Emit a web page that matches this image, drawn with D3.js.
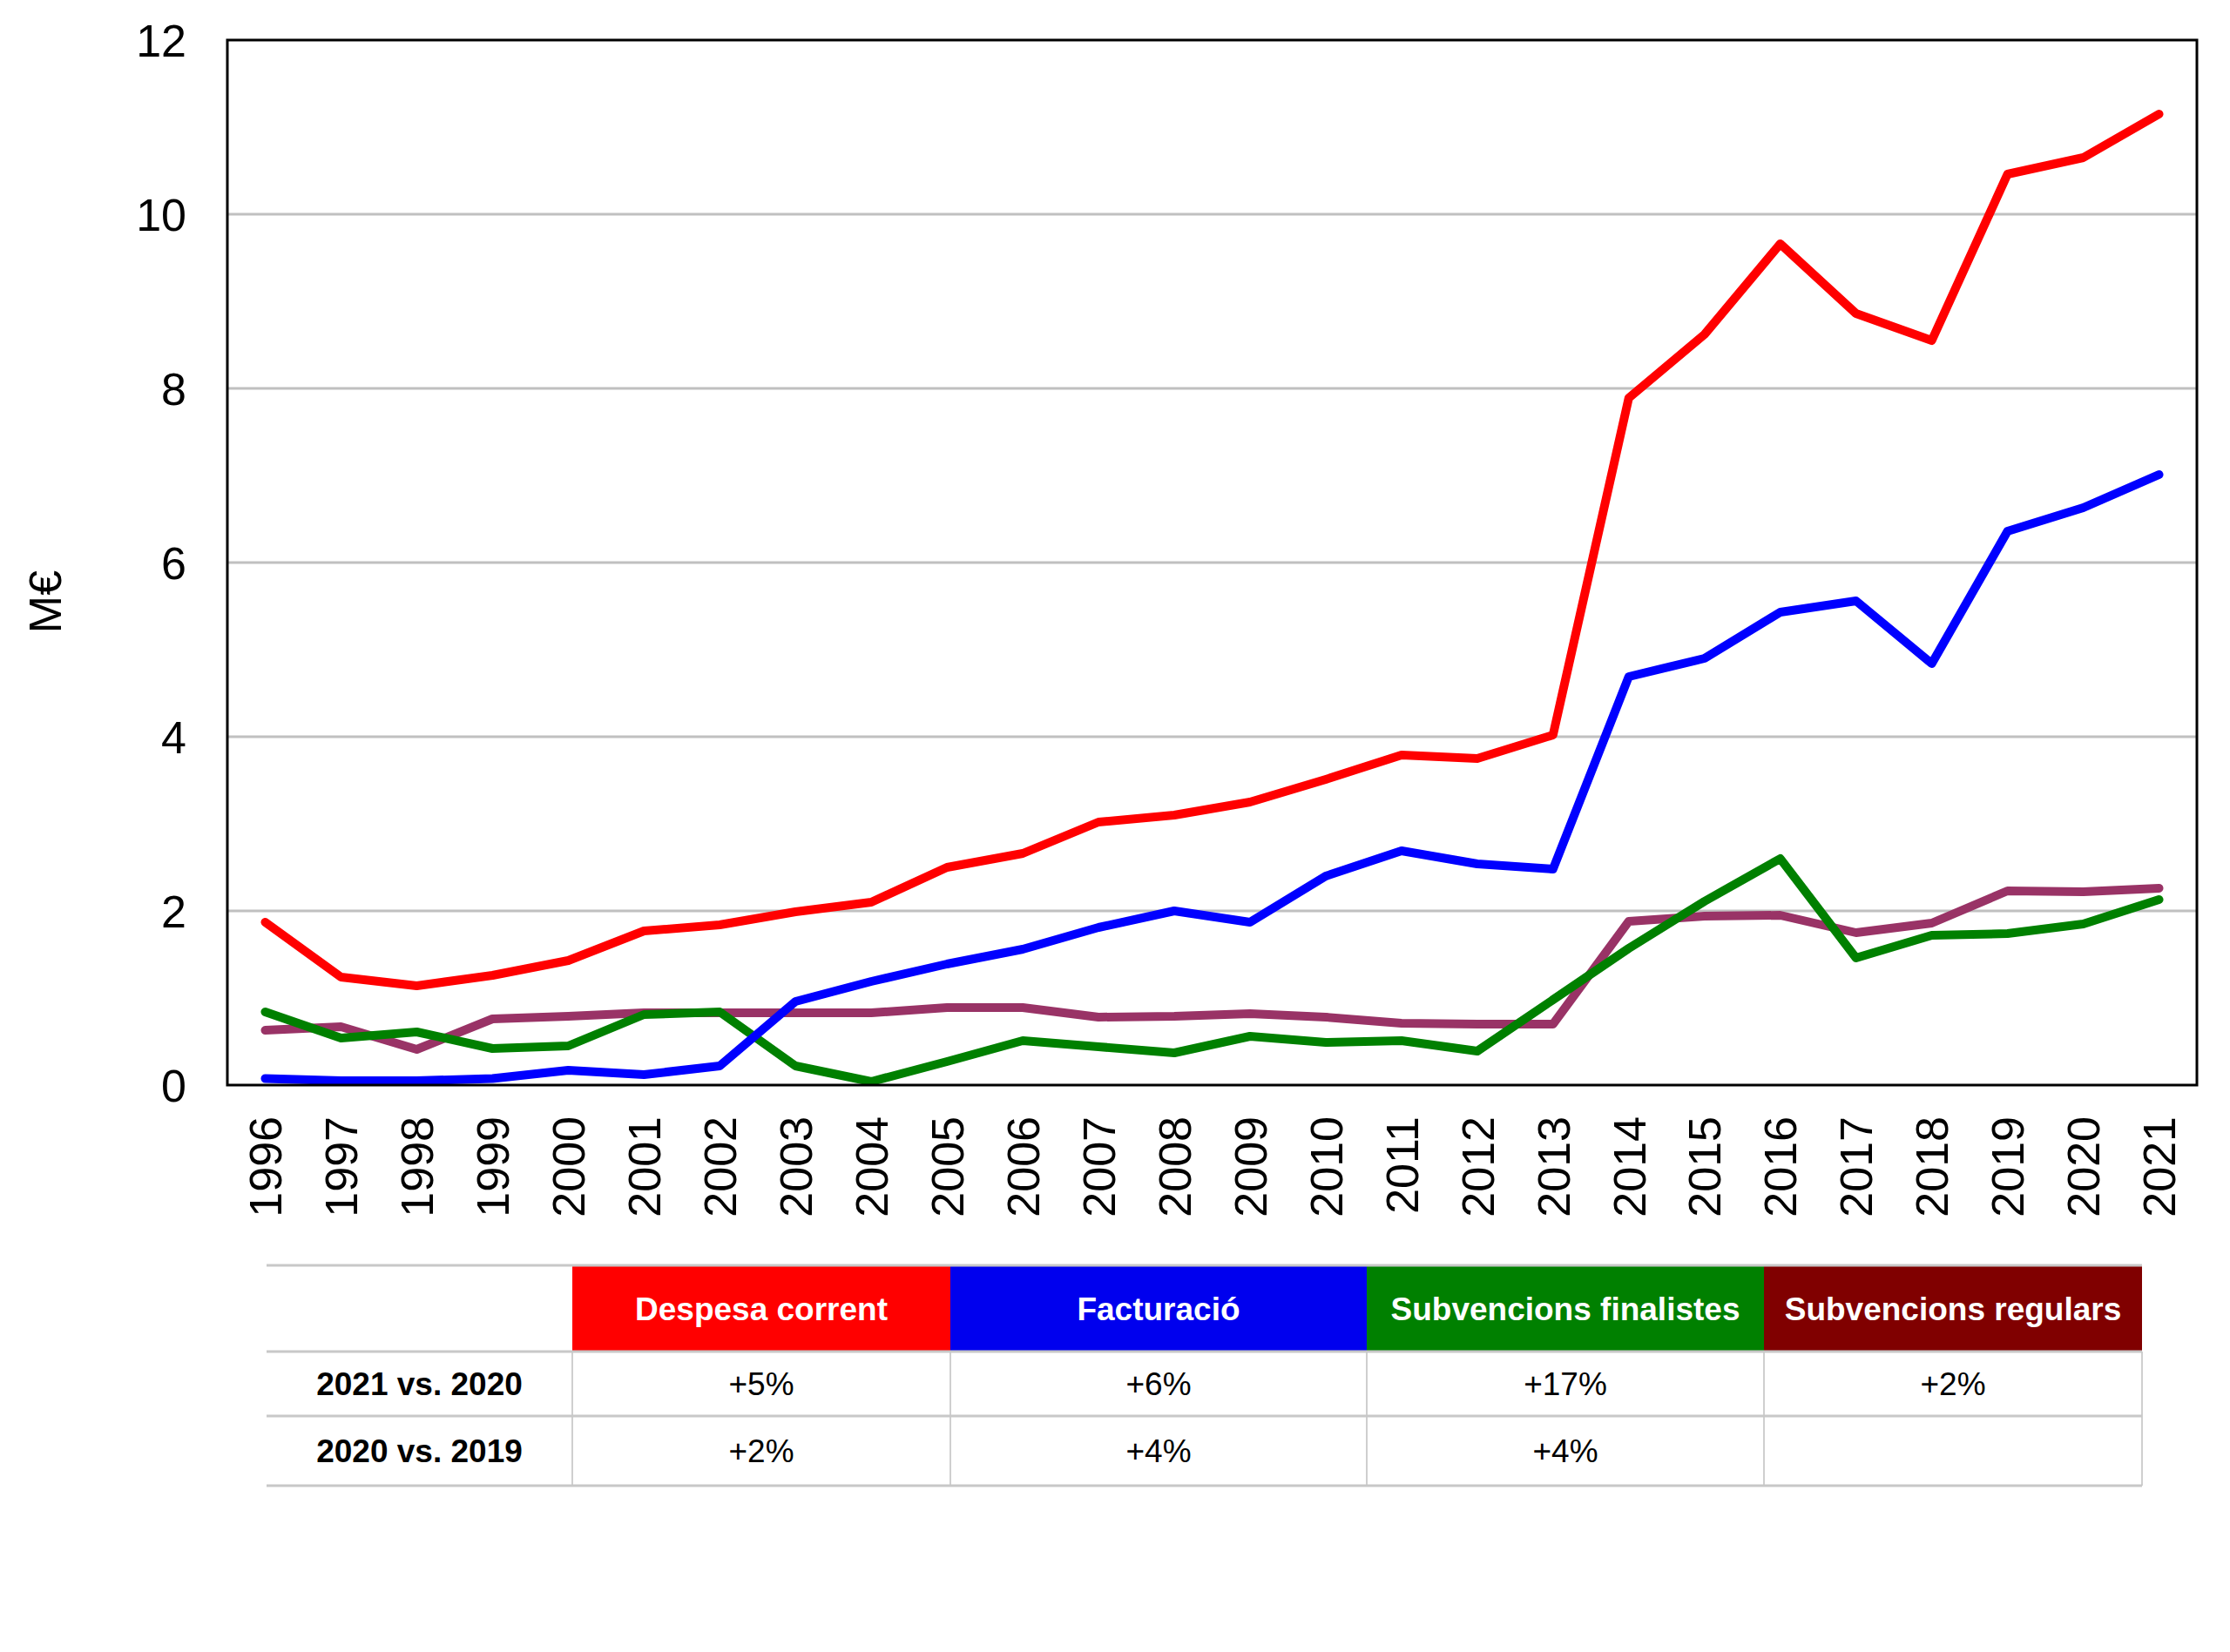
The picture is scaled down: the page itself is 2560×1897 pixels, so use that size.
<!DOCTYPE html>
<html>
<head>
<meta charset="utf-8">
<script src="https://cdn.jsdelivr.net/npm/d3@7"></script>
<style>
  body { margin: 0; background: #fff; }
  text { font-family: "Liberation Sans", Arial, sans-serif; }
</style>
</head>
<body>
<div id="chart"></div>
<script>
// data
const years = d3.range(1996, 2022).map(String);

const despesaCorrent = [1.87, 1.24, 1.14, 1.26, 1.43, 1.77, 1.84, 1.99, 2.10, 2.50, 2.66, 3.02, 3.10,
  3.25, 3.51, 3.79, 3.75, 4.02, 7.89, 8.62, 9.66, 8.86, 8.55, 10.46, 10.65, 11.15];
const facturacio = [0.075, 0.05, 0.05, 0.075, 0.17, 0.12, 0.22, 0.96, 1.19, 1.39, 1.56, 1.81, 2.00,
  1.87, 2.40, 2.69, 2.54, 2.48, 4.69, 4.90, 5.43, 5.56, 4.84, 6.36, 6.63, 7.01];
const subvFinalistes = [0.84, 0.54, 0.61, 0.42, 0.45, 0.81, 0.84, 0.22, 0.04, 0.27, 0.51, 0.44, 0.37,
  0.56, 0.49, 0.51, 0.39, 0.98, 1.57, 2.11, 2.60, 1.46, 1.72, 1.74, 1.85, 2.13];
const subvRegulars = [0.63, 0.67, 0.41, 0.76, 0.79, 0.83, 0.83, 0.83, 0.83, 0.89, 0.89, 0.78, 0.79,
  0.82, 0.78, 0.71, 0.70, 0.70, 1.88, 1.94, 1.95, 1.75, 1.86, 2.23, 2.22, 2.26];

const yTicks = [0, 2, 4, 6, 8, 10, 12];

const tableHeaders = ["Despesa corrent", "Facturació", "Subvencions finalistes", "Subvencions regulars"];
const tableRowLabels = ["2021 vs. 2020", "2020 vs. 2019"];
const tableRow2021 = ["+5%", "+6%", "+17%", "+2%"];
const tableRow2020 = ["+2%", "+4%", "+4%", ""];

const W = 2560, H = 1897;
const plot = {left: 261, right: 2522, top: 46, bottom: 1246};

const svg = d3.select('#chart').append('svg')
  .attr('width', W)
  .attr('height', H)
  .style('display', 'block');

svg.append('rect').attr('width', W).attr('height', H).attr('fill', '#fff');

const x = d3.scaleBand()
  .domain(years)
  .range([plot.left, plot.right]);

const y = d3.scaleLinear()
  .domain([0, 12])
  .range([plot.bottom, plot.top]);

// gridlines
svg.append('g')
  .selectAll('line')
  .data(yTicks.filter(d => d > 0 && d < 12))
  .enter().append('line')
  .attr('x1', plot.left).attr('x2', plot.right)
  .attr('y1', d => y(d)).attr('y2', d => y(d))
  .attr('stroke', '#c0c0c0')
  .attr('stroke-width', 3);

// y axis labels
const yAxis = svg.append('g')
  .attr('transform', 'translate(' + plot.left + ',0)')
  .call(d3.axisLeft(y).tickValues(yTicks).tickSize(0).tickPadding(47));
yAxis.select('.domain').remove();
yAxis.selectAll('text')
  .style('font-size', '52px')
  .attr('fill', '#000')
  .attr('dy', '0.36em');

// x axis labels
const xAxis = svg.append('g')
  .attr('transform', 'translate(0,' + plot.bottom + ')')
  .call(d3.axisBottom(x).tickSize(0).tickPadding(0));
xAxis.select('.domain').remove();
xAxis.selectAll('text')
  .style('font-size', '52px')
  .attr('fill', '#000')
  .attr('text-anchor', 'end')
  .attr('transform', 'translate(0,36) rotate(-90)')
  .attr('x', 0)
  .attr('y', 0)
  .attr('dy', '0.36em');

// y label
svg.append('text')
  .attr('transform', 'translate(51,691) rotate(-90)')
  .attr('text-anchor', 'middle')
  .attr('dy', '0.36em')
  .style('font-size', '52px')
  .text('M€');

// lines
const series = [
  {values: subvRegulars, color: '#993366'},
  {values: subvFinalistes, color: '#008000'},
  {values: facturacio, color: '#0000ff'},
  {values: despesaCorrent, color: '#ff0000'}
];

const line = d3.line()
  .x((d, i) => x(years[i]) + x.bandwidth() / 2)
  .y(d => y(d));

svg.append('g')
  .selectAll('path')
  .data(series)
  .enter().append('path')
  .attr('d', d => line(d.values))
  .attr('fill', 'none')
  .attr('stroke', d => d.color)
  .attr('stroke-width', 10)
  .attr('stroke-linejoin', 'round')
  .attr('stroke-linecap', 'round');

// plot frame
svg.append('rect')
  .attr('x', plot.left).attr('y', plot.top)
  .attr('width', plot.right - plot.left)
  .attr('height', plot.bottom - plot.top)
  .attr('fill', 'none')
  .attr('stroke', '#000')
  .attr('stroke-width', 3);

// table
const colEdges = [306, 657, 1091, 1569, 2025, 2459];
const rowEdges = [1453, 1552, 1626, 1706];
const headerColors = ['#ff0000', '#0000ee', '#008000', '#800000'];
const table = svg.append('g');

table.selectAll('rect.head')
  .data(tableHeaders)
  .enter().append('rect')
  .attr('class', 'head')
  .attr('x', (d, i) => colEdges[i + 1])
  .attr('y', rowEdges[0])
  .attr('width', (d, i) => colEdges[i + 2] - colEdges[i + 1])
  .attr('height', rowEdges[1] - rowEdges[0])
  .attr('fill', (d, i) => headerColors[i]);

table.selectAll('text.head')
  .data(tableHeaders)
  .enter().append('text')
  .attr('class', 'head')
  .attr('x', (d, i) => (colEdges[i + 1] + colEdges[i + 2]) / 2)
  .attr('y', (rowEdges[0] + rowEdges[1]) / 2)
  .attr('dy', '0.36em')
  .attr('text-anchor', 'middle')
  .attr('fill', '#fff')
  .style('font-size', '37px')
  .style('font-weight', 'bold')
  .text(d => d);

// vertical cell lines in body rows
table.selectAll('line.v')
  .data(colEdges.slice(1))
  .enter().append('line')
  .attr('class', 'v')
  .attr('x1', d => d).attr('x2', d => d)
  .attr('y1', rowEdges[1]).attr('y2', rowEdges[3])
  .attr('stroke', '#cfcfcf')
  .attr('stroke-width', 2);

// horizontal lines
table.selectAll('line.h')
  .data(rowEdges)
  .enter().append('line')
  .attr('class', 'h')
  .attr('x1', colEdges[0]).attr('x2', colEdges[5])
  .attr('y1', d => d).attr('y2', d => d)
  .attr('stroke', '#c8c8c8')
  .attr('stroke-width', 3);

const bodyRows = [tableRow2021, tableRow2020];
bodyRows.forEach((row, r) => {
  const cy = (rowEdges[r + 1] + rowEdges[r + 2]) / 2;
  table.append('text')
    .attr('x', (colEdges[0] + colEdges[1]) / 2)
    .attr('y', cy)
    .attr('dy', '0.36em')
    .attr('text-anchor', 'middle')
    .style('font-size', '37px')
    .style('font-weight', 'bold')
    .text(tableRowLabels[r]);
  table.selectAll(null)
    .data(row)
    .enter().append('text')
    .attr('x', (d, i) => (colEdges[i + 1] + colEdges[i + 2]) / 2)
    .attr('y', cy)
    .attr('dy', '0.36em')
    .attr('text-anchor', 'middle')
    .style('font-size', '37px')
    .text(d => d);
});
</script>
</body>
</html>
